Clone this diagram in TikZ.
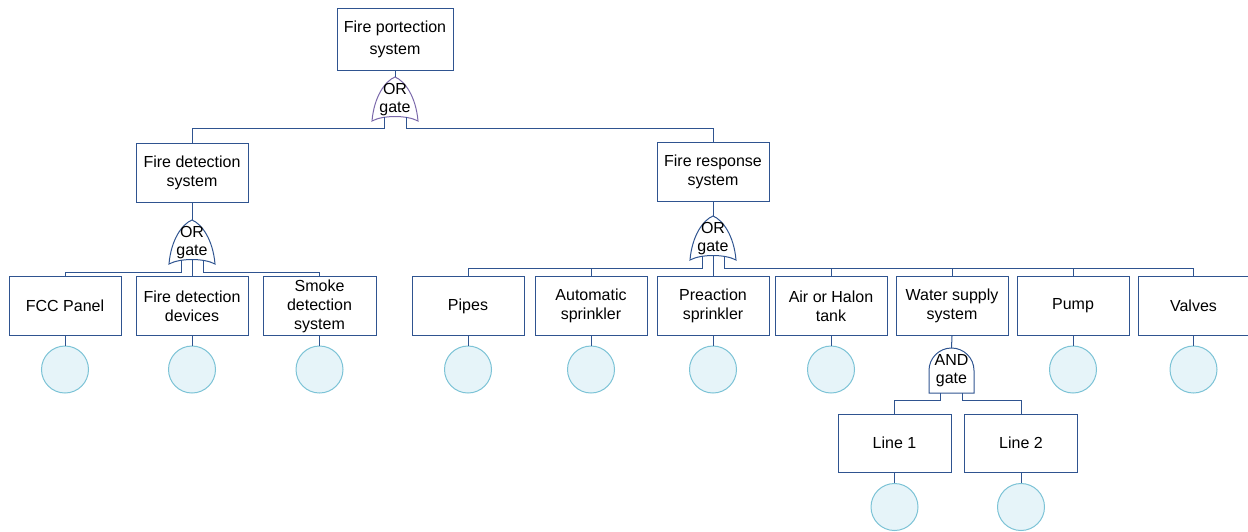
\documentclass[tikz,border=0pt]{standalone}
\usepackage{fontspec}
\setmainfont{Liberation Sans}
\definecolor{boxc}{HTML}{2F5490}
\definecolor{orc}{HTML}{7A68AA}
\definecolor{circf}{HTML}{E6F4F9}
\definecolor{circd}{HTML}{7CC3D6}
\tikzset{
  ev/.style={draw=boxc, line width=1pt, minimum width=112pt, minimum height=59pt,
    inner sep=0pt, align=center, font=\fontsize{16}{19}\selectfont, text=black},
  basic/.style={circle, draw=circd, fill=circf, line width=1pt, minimum size=47pt, inner sep=0pt},
  wire/.style={draw=boxc, line width=1pt},
  gatetext/.style={inner sep=0pt, align=center, font=\fontsize{16}{18.5}\selectfont, text=black},
  gateline/.style={draw=boxc, line width=1pt},
  orgate/.pic={
    \coordinate (-tip) at (0,0);
    \draw[pic actions] (0,0) .. controls (-10,4) and (-21,20) .. (-23,44)
      .. controls (-12,38) and (12,38) .. (23,44)
      .. controls (21,20) and (10,4) .. (0,0) -- cycle;
    \coordinate (-l) at (-11,40.3);
    \coordinate (-r) at (11,40.3);
    \coordinate (-c) at (0,39.5);
    \node[gatetext] (-t) at (0,22.5) {OR\\gate};
  },
  andgate/.pic={
    \coordinate (-tip) at (0,0);
    \draw[pic actions] (-22.5,45) -- (-22.5,22.5) .. controls (-22.5,10.1) and (-12.4,0) .. (0,0)
      .. controls (12.4,0) and (22.5,10.1) .. (22.5,22.5) -- (22.5,45) -- cycle;
    \coordinate (-l) at (-11,45);
    \coordinate (-r) at (11,45);
    \node[gatetext] (-t) at (0,22.5) {AND\\gate};
  }
}
\begin{document}
\begin{tikzpicture}[x=1pt,y=-1pt]
\useasboundingbox (0,0) rectangle (1248,531);

% top event
\node[ev, minimum width=116pt, minimum height=62pt, font=\fontsize{16}{22}\selectfont] (top) at (395,39) {Fire portection\\system};
\pic[draw=orc, line width=1pt] (g0) at (395,77) {orgate};
\coordinate (bus0) at (395,128);

% second level
\node[ev] (fds) at (192,172.5) {Fire detection\\system};
\node[ev] (frs) at (713,171.5) {Fire response\\system};
\pic[gateline] (g1) at (192,220) {orgate};
\pic[gateline] (g2) at (713,216) {orgate};
\coordinate (bus1) at (192,272);
\coordinate (bus2) at (713,268);

% detection children
\node[ev] (fcc) at (65,306) {FCC Panel};
\node[ev] (fdd) at (192,306) {Fire detection\\devices};
\node[ev, minimum width=113pt] (sds) at (319.5,306) {Smoke\\detection\\system};

% response children
\node[ev] (pip) at (468,306) {Pipes};
\node[ev] (aut) at (591,306) {Automatic\\sprinkler};
\node[ev] (pre) at (713,306) {Preaction\\sprinkler};
\node[ev] (air) at (831,306) {Air or Halon\\tank};
\node[ev] (wss) at (952,306) {Water supply\\system};
\node[ev] (pmp) at (1073,306) {Pump};
\node[ev, minimum width=111pt] (vlv) at (1193.5,306) {Valves};

% AND gate
\pic[gateline] (g3) at (951.5,348) {andgate};
\coordinate (bus3) at (951.5,400);
\node[ev, minimum width=113pt, minimum height=58pt] (l1) at (894.5,443) {Line 1};
\node[ev, minimum width=113pt, minimum height=58pt] (l2) at (1021,443) {Line 2};

% basic events
\node[basic] (c1) at (65,369.5) {};
\node[basic] (c2) at (192,369.5) {};
\node[basic] (c3) at (319.5,369.5) {};
\node[basic] (c4) at (468,369.5) {};
\node[basic] (c5) at (591,369.5) {};
\node[basic] (c6) at (713,369.5) {};
\node[basic] (c7) at (831,369.5) {};
\node[basic] (c8) at (1073,369.5) {};
\node[basic] (c9) at (1193.5,369.5) {};
\node[basic] (c10) at (894.5,507) {};
\node[basic] (c11) at (1021,507) {};

% wires top
\draw[wire] (top.south) -- (g0-tip);
\draw[wire] (g0-l) -- (g0-l |- bus0) -| (fds.north);
\draw[wire] (g0-r) -- (g0-r |- bus0) -| (frs.north);

% wires detection
\draw[wire] (fds.south) -- (g1-tip);
\draw[wire] (g1-l) -- (g1-l |- bus1) -| (fcc.north);
\draw[wire] (g1-c) -- (fdd.north);
\draw[wire] (g1-r) -- (g1-r |- bus1) -| (sds.north);

% wires response
\draw[wire] (frs.south) -- (g2-tip);
\draw[wire] (g2-l) -- (g2-l |- bus2) -| (pip.north);
\draw[wire] (g2-l |- bus2) -| (aut.north);
\draw[wire] (g2-c) -- (pre.north);
\draw[wire] (g2-r) -- (g2-r |- bus2) -| (vlv.north);
\draw[wire] (g2-r |- bus2) -| (air.north);
\draw[wire] (g2-r |- bus2) -| (wss.north);
\draw[wire] (g2-r |- bus2) -| (pmp.north);

% wires and gate
\draw[wire] (wss.south) -- (g3-tip);
\draw[wire] (g3-l) -- (g3-l |- bus3) -| (l1.north);
\draw[wire] (g3-r) -- (g3-r |- bus3) -| (l2.north);

% basic event links
\draw[wire] (fcc.south) -- (c1.north);
\draw[wire] (fdd.south) -- (c2.north);
\draw[wire] (sds.south) -- (c3.north);
\draw[wire] (pip.south) -- (c4.north);
\draw[wire] (aut.south) -- (c5.north);
\draw[wire] (pre.south) -- (c6.north);
\draw[wire] (air.south) -- (c7.north);
\draw[wire] (pmp.south) -- (c8.north);
\draw[wire] (vlv.south) -- (c9.north);
\draw[wire] (l1.south) -- (c10.north);
\draw[wire] (l2.south) -- (c11.north);
\end{tikzpicture}
\end{document}
